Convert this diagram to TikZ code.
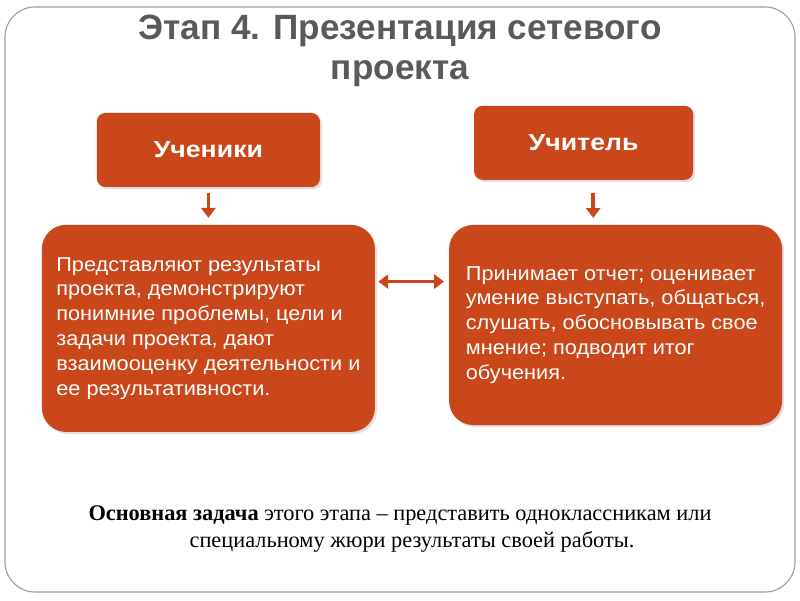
\documentclass[tikz,border=0pt]{standalone}
\usepackage{fontspec}
\setmainfont{Liberation Sans}
\newfontfamily\widefont[FakeStretch=1.15]{Liberation Sans}
\newfontfamily\bodyfont[FakeStretch=1.08]{Liberation Sans}
\newfontfamily\timesfont{Liberation Serif}
\usetikzlibrary{arrows.meta,shadows}
\definecolor{brick}{HTML}{C9471A}
\definecolor{titlegray}{HTML}{5A5A5A}

\begin{document}
\begin{tikzpicture}
    % Set up styles for the boxes and arrows
    \tikzstyle{head} = [fill=brick, text=white, rounded corners=6pt, font=\widefont\fontsize{16.5}{19}\selectfont\bfseries,
        minimum height=1.85cm, drop shadow={opacity=0.25, shadow xshift=1.5pt, shadow yshift=-1.5pt}]
    \tikzstyle{card} = [fill=brick, text=white, rounded corners=0.6cm, align=left,
        font=\bodyfont\fontsize{14.3}{17.7}\selectfont, minimum width=8.325cm,
        drop shadow={opacity=0.25, shadow xshift=1.5pt, shadow yshift=-1.5pt}]
    \tikzstyle{arrow} = [-{Triangle[width=10pt,length=7pt]}, line width=2.6pt, brick]

    % Page and outer frame
    \useasboundingbox (0,0) rectangle (20,15);
    \draw[gray!75, line width=0.8pt, rounded corners=0.75cm] (0.125,0.2) rectangle (19.875,14.825);

    % Title
    \node (title) at (10,13.72) [align=center, text=titlegray,
        font=\fontsize{25}{28.6}\selectfont\bfseries]
        {Этап 4. Презентация сетевого\\проекта};

    % Top boxes
    \node (students) at (5.21,11.25) [head, minimum width=5.575cm] {Ученики};
    \node (teacher) at (14.59,11.43) [head, minimum width=5.475cm] {Учитель};

    % Text boxes
    \node (studentsText) at (5.21,6.79) [card, minimum height=5.175cm]
        {Представляют результаты\\проекта, демонстрируют\\понимние проблемы, цели и\\задачи проекта, дают\\взаимооценку деятельности и\\ее результативности.};
    \node (teacherText) at (15.39,6.875) [card, minimum height=5.0cm]
        {Принимает отчет; оценивает\\умение выступать, общаться,\\слушать, обосновывать свое\\мнение; подводит итог\\обучения.};

    % Arrows between boxes
    \draw[arrow] ([yshift=-0.15cm]students.south) -- ([yshift=0.17cm]studentsText.north -| students.south);
    \draw[arrow] ([xshift=0.24cm,yshift=-0.32cm]teacher.south) -- ([xshift=0.24cm,yshift=0.17cm]teacherText.north -| teacher.south);
    \draw[{Triangle[width=10pt,length=7pt]}-{Triangle[width=10pt,length=7pt]}, line width=2.4pt, brick]
        ([xshift=0.08cm,yshift=1.17cm]studentsText.east) -- ([xshift=-0.12cm,yshift=1.17cm]studentsText.east -| teacherText.west);

    % Main task of the stage
    \node (task) at (10,1.78) [align=center, font=\timesfont\fontsize{15.9}{19}\selectfont]
        {\textbf{Основная задача} этого этапа – представить одноклассникам или\\\hspace*{0.6cm}специальному жюри результаты своей работы.};

\end{tikzpicture}
\end{document}
